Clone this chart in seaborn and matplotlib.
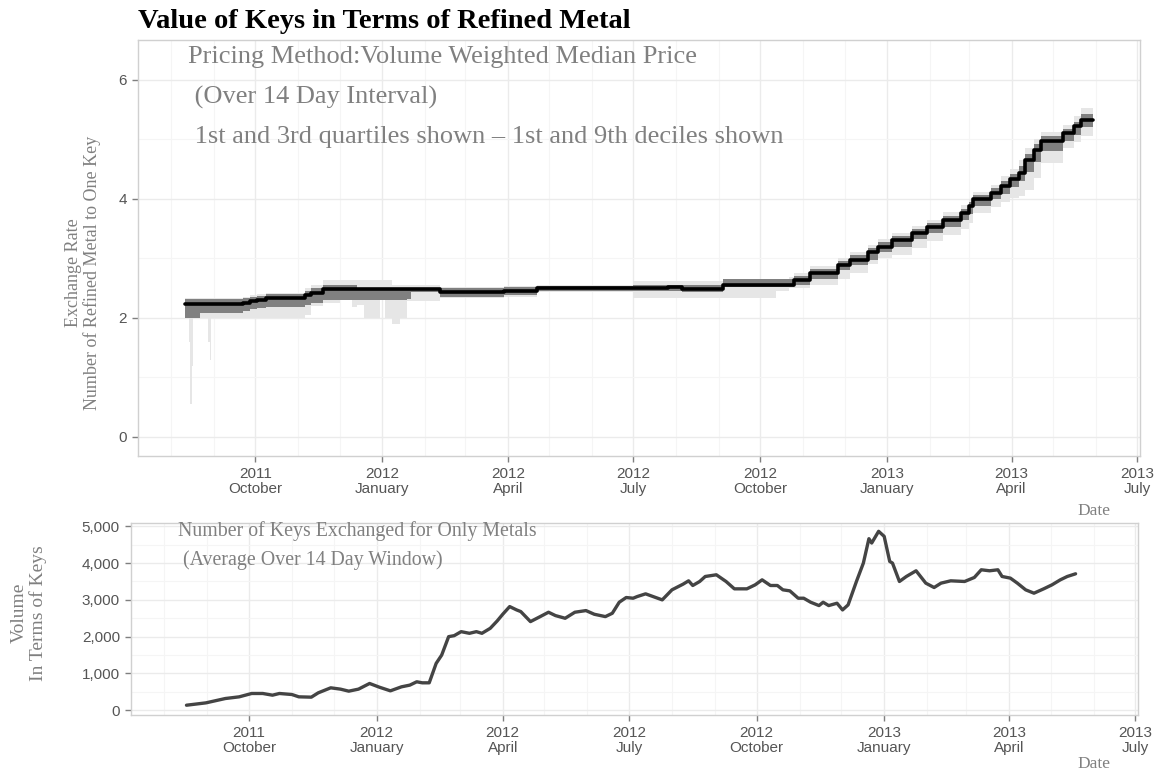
import matplotlib
matplotlib.use("Agg")
import matplotlib.pyplot as plt
import matplotlib.dates as mdates
from matplotlib.ticker import FixedLocator, FuncFormatter
import pandas as pd
import seaborn as sns

# ---------------- data ----------------
price_dates = ['2011-08-11', '2011-08-14', '2011-08-15', '2011-08-16', '2011-08-17', '2011-08-22',
               '2011-08-28', '2011-08-29', '2011-08-30', '2011-09-22', '2011-09-27', '2011-10-02',
               '2011-10-09', '2011-11-06', '2011-11-10', '2011-11-19', '2011-12-01', '2011-12-10',
               '2011-12-14', '2011-12-19', '2011-12-30', '2012-01-03', '2012-01-08', '2012-01-14',
               '2012-01-19', '2012-01-22', '2012-02-12', '2012-03-29', '2012-04-22', '2012-07-01',
               '2012-07-26', '2012-08-05', '2012-09-04', '2012-10-12', '2012-10-22', '2012-10-25',
               '2012-11-06', '2012-11-26', '2012-12-05', '2012-12-18', '2012-12-25', '2013-01-04',
               '2013-01-19', '2013-01-30', '2013-02-10', '2013-02-23', '2013-03-01', '2013-03-04',
               '2013-03-17', '2013-03-24', '2013-03-31', '2013-04-06', '2013-04-11', '2013-04-17',
               '2013-04-22', '2013-05-08', '2013-05-16', '2013-05-21', '2013-05-30']
price_median = [2.23, 2.23, 2.23, 2.23, 2.23, 2.23, 2.23, 2.23, 2.23, 2.25, 2.28, 2.30,
                2.33, 2.38, 2.42, 2.49, 2.49, 2.49, 2.49, 2.49, 2.49, 2.49, 2.49, 2.49,
                2.49, 2.49, 2.44, 2.46, 2.50, 2.50, 2.52, 2.48, 2.56, 2.56, 2.56, 2.64,
                2.76, 2.89, 2.97, 3.10, 3.20, 3.31, 3.43, 3.53, 3.65, 3.76, 3.88, 4.00,
                4.10, 4.22, 4.33, 4.43, 4.66, 4.82, 4.98, 5.10, 5.22, 5.32, 5.32]
price_q1 = [2.00, 2.00, 2.00, 2.00, 2.00, 2.08, 2.08, 2.08, 2.08, 2.12, 2.15, 2.17,
            2.19, 2.22, 2.25, 2.30, 2.30, 2.30, 2.30, 2.30, 2.30, 2.30, 2.30, 2.30,
            2.32, 2.44, 2.36, 2.38, 2.45, 2.45, 2.46, 2.44, 2.52, 2.52, 2.52, 2.56,
            2.66, 2.80, 2.89, 2.98, 3.10, 3.20, 3.32, 3.43, 3.53, 3.65, 3.74, 3.88,
            4.00, 4.08, 4.20, 4.30, 4.45, 4.62, 4.80, 4.98, 5.08, 5.20, 5.20]
price_q3 = [2.31, 2.31, 2.31, 2.31, 2.31, 2.31, 2.31, 2.31, 2.31, 2.33, 2.35, 2.37,
            2.40, 2.45, 2.50, 2.55, 2.55, 2.55, 2.51, 2.51, 2.51, 2.51, 2.51, 2.51,
            2.51, 2.51, 2.50, 2.52, 2.54, 2.55, 2.56, 2.55, 2.65, 2.65, 2.65, 2.70,
            2.83, 2.95, 3.05, 3.18, 3.28, 3.38, 3.50, 3.60, 3.72, 3.83, 3.95, 4.07,
            4.18, 4.30, 4.42, 4.55, 4.75, 4.92, 5.05, 5.18, 5.30, 5.42, 5.42]
price_d1 = [2.00, 1.60, 0.55, 1.20, 2.00, 2.00, 1.60, 1.30, 2.00, 2.00, 2.00, 2.00,
            2.00, 2.05, 2.20, 2.25, 2.30, 2.18, 2.22, 2.00, 2.30, 2.00, 1.90, 2.00,
            2.28, 2.28, 2.34, 2.36, 2.43, 2.33, 2.33, 2.33, 2.33, 2.45, 2.50, 2.50,
            2.56, 2.66, 2.76, 2.90, 3.00, 3.05, 3.18, 3.30, 3.40, 3.50, 3.60, 3.76,
            3.86, 3.95, 4.02, 4.05, 4.15, 4.35, 4.60, 4.85, 4.95, 5.05, 5.05]
price_d9 = [2.33, 2.33, 2.33, 2.33, 2.33, 2.33, 2.33, 2.33, 2.33, 2.35, 2.38, 2.40,
            2.42, 2.50, 2.56, 2.64, 2.64, 2.64, 2.64, 2.64, 2.64, 2.64, 2.55, 2.55,
            2.55, 2.55, 2.52, 2.54, 2.56, 2.62, 2.62, 2.62, 2.66, 2.66, 2.68, 2.75,
            2.88, 3.00, 3.10, 3.22, 3.32, 3.42, 3.55, 3.65, 3.78, 3.90, 4.00, 4.12,
            4.24, 4.38, 4.50, 4.65, 4.85, 5.00, 5.12, 5.25, 5.40, 5.52, 5.52]

volume_dates = ['2011-08-17', '2011-08-31', '2011-09-14', '2011-09-24', '2011-10-03', '2011-10-11',
                '2011-10-18', '2011-10-23', '2011-11-01', '2011-11-06', '2011-11-15', '2011-11-20',
                '2011-11-29', '2011-12-06', '2011-12-12', '2011-12-19', '2011-12-27', '2012-01-03',
                '2012-01-11', '2012-01-19', '2012-01-25', '2012-01-30', '2012-02-03', '2012-02-08',
                '2012-02-13', '2012-02-17', '2012-02-22', '2012-02-26', '2012-03-02', '2012-03-08',
                '2012-03-13', '2012-03-17', '2012-03-23', '2012-03-28', '2012-04-01', '2012-04-06',
                '2012-04-11', '2012-04-14', '2012-04-21', '2012-04-28', '2012-05-04', '2012-05-09',
                '2012-05-16', '2012-05-23', '2012-05-31', '2012-06-06', '2012-06-14', '2012-06-19',
                '2012-06-24', '2012-06-29', '2012-07-04', '2012-07-07', '2012-07-13', '2012-07-25',
                '2012-08-01', '2012-08-09', '2012-08-13', '2012-08-16', '2012-08-21', '2012-08-25',
                '2012-09-02', '2012-09-09', '2012-09-15', '2012-09-24', '2012-09-30', '2012-10-05',
                '2012-10-11', '2012-10-16', '2012-10-20', '2012-10-25', '2012-10-31', '2012-11-04',
                '2012-11-09', '2012-11-15', '2012-11-18', '2012-11-22', '2012-11-28', '2012-12-02',
                '2012-12-06', '2012-12-12', '2012-12-17', '2012-12-21', '2012-12-23', '2012-12-28',
                '2013-01-01', '2013-01-05', '2013-01-07', '2013-01-12', '2013-01-17', '2013-01-24',
                '2013-01-31', '2013-02-06', '2013-02-11', '2013-02-18', '2013-02-28', '2013-03-07',
                '2013-03-12', '2013-03-18', '2013-03-24', '2013-03-27', '2013-04-02', '2013-04-07',
                '2013-04-13', '2013-04-19', '2013-04-26', '2013-05-02', '2013-05-08', '2013-05-13',
                '2013-05-19']
volume_keys = [136, 200, 318, 364, 455, 455, 409, 455, 427, 364, 355, 473,
               609, 573, 518, 573, 727, 627, 527, 636, 682, 773, 745, 745,
               1273, 1500, 2000, 2027, 2136, 2091, 2136, 2091, 2227, 2427, 2609, 2818,
               2727, 2682, 2409, 2545, 2664, 2573, 2500, 2664, 2709, 2609, 2545, 2636,
               2936, 3064, 3045, 3091, 3164, 3000, 3273, 3427, 3518, 3391, 3500, 3636,
               3682, 3500, 3300, 3300, 3409, 3545, 3391, 3391, 3273, 3245, 3045, 3045,
               2936, 2845, 2936, 2845, 2909, 2727, 2864, 3500, 4000, 4663, 4545, 4864,
               4727, 4045, 4000, 3500, 3636, 3791, 3455, 3336, 3455, 3518, 3500, 3609,
               3818, 3791, 3818, 3636, 3591, 3455, 3273, 3182, 3300, 3409, 3545, 3636,
               3709]

tick_dates = ['2011-10-01', '2012-01-01', '2012-04-01', '2012-07-01',
              '2012-10-01', '2013-01-01', '2013-04-01', '2013-07-01']
tick_labels = ['2011\nOctober', '2012\nJanuary', '2012\nApril', '2012\nJuly',
               '2012\nOctober', '2013\nJanuary', '2013\nApril', '2013\nJuly']
x_limits = ['2011-07-08', '2013-07-03']

title = "Value of Keys in Terms of Refined Metal"
price_notes = ["Pricing Method:Volume Weighted Median Price",
               " (Over 14 Day Interval)",
               " 1st and 3rd quartiles shown \u2013 1st and 9th deciles shown"]
volume_notes = ["Number of Keys Exchanged for Only Metals",
                " (Average Over 14 Day Window)"]

# ---------------- frames ----------------
price = pd.DataFrame({"date": pd.to_datetime(price_dates), "median": price_median,
                      "q1": price_q1, "q3": price_q3, "d1": price_d1, "d9": price_d9})
volume = pd.DataFrame({"date": pd.to_datetime(volume_dates), "keys": volume_keys})

# ---------------- style ----------------
sns.set_theme(style="whitegrid")
SANS = ['Liberation Sans', 'DejaVu Sans']
SERIF = ['Liberation Serif', 'DejaVu Serif']
plt.rcParams['font.family'] = SANS

W, H = 1157, 776
fig = plt.figure(figsize=(W / 100, H / 100), dpi=100)
fig.patch.set_facecolor('white')
ax1 = fig.add_axes([138 / W, 1 - 456 / H, 1002 / W, 416 / H])
ax2 = fig.add_axes([131 / W, 1 - 715 / H, 1007 / W, 192 / H])

# ---------------- top panel ----------------
ax1.fill_between(price["date"], price["d1"], price["d9"], step="post",
                 color="#e6e6e6", linewidth=0, zorder=2)
ax1.fill_between(price["date"], price["q1"], price["q3"], step="post",
                 color="#808080", linewidth=0, zorder=3)
sns.lineplot(data=price, x="date", y="median", ax=ax1, color="black",
             linewidth=2.6, drawstyle="steps-post", errorbar=None, zorder=4)

# ---------------- bottom panel ----------------
sns.lineplot(data=volume, x="date", y="keys", ax=ax2, color="#444444",
             linewidth=2.4, errorbar=None, zorder=4)

ticks = mdates.date2num(pd.to_datetime(tick_dates))
xl = mdates.date2num(pd.to_datetime(x_limits))

for ax in (ax1, ax2):
    ax.set_facecolor('white')
    ax.set_xlim(xl[0], xl[1])
    ax.xaxis.set_major_locator(FixedLocator(ticks))
    ax.set_xticklabels(tick_labels)
    ax.xaxis.set_minor_locator(mdates.MonthLocator())
    ax.grid(which='major', color='#ebebeb', linewidth=1.0, zorder=0)
    ax.grid(which='minor', color='#f5f5f5', linewidth=0.8, zorder=0)
    ax.set_axisbelow(True)
    for s in ax.spines.values():
        s.set_color('#d0d0d0')
        s.set_linewidth(1.0)
    ax.tick_params(which='major', length=4, width=1.0, color='#7f7f7f',
                   labelcolor='#555555', labelsize=11, pad=4)
    ax.tick_params(which='minor', length=0)
    ax.tick_params(axis='x', bottom=True)
    ax.tick_params(axis='y', left=True)
    ax.set_xlabel('')
    ax.set_ylabel('')
    for lab in ax.get_xticklabels():
        lab.set_linespacing(1.1)

ax1.set_ylim(-0.32, 6.67)
ax1.yaxis.set_major_locator(FixedLocator([0, 2, 4, 6]))
ax1.yaxis.set_minor_locator(FixedLocator([1, 3, 5]))

ax2.set_ylim(-130, 5090)
ax2.yaxis.set_major_locator(FixedLocator([0, 1000, 2000, 3000, 4000, 5000]))
ax2.yaxis.set_minor_locator(FixedLocator([500, 1500, 2500, 3500, 4500]))
ax2.yaxis.set_major_formatter(FuncFormatter(lambda v, p: f"{int(v):,}"))

# ---------------- texts ----------------
fig.text(138 / W, 1 - 22 / H, title, family=SERIF, fontweight='bold',
         fontsize=20.5, color='black', ha='left', va='center')

for txt, yf in zip(price_notes, [0.959, 0.863, 0.767]):
    ax1.text(0.05, yf, txt, transform=ax1.transAxes, family=SERIF,
             fontsize=19, color='#808080', ha='left', va='center')
for txt, yf in zip(volume_notes, [0.958, 0.807]):
    ax2.text(0.047, yf, txt, transform=ax2.transAxes, family=SERIF,
             fontsize=14.3, color='#808080', ha='left', va='center')

fig.text(83 / W, 1 - 273 / H, "Exchange Rate\nNumber of Refined Metal to One Key",
         rotation=90, family=SERIF, fontsize=13, color='#808080',
         ha='center', va='center', multialignment='center', linespacing=1.1)
fig.text(29 / W, 1 - 613 / H, "Volume\nIn Terms of Keys",
         rotation=90, family=SERIF, fontsize=14, color='#808080',
         ha='center', va='center', multialignment='center', linespacing=1.1)

fig.text(1110 / W, 1 - 511 / H, "Date", family=SERIF, fontsize=12.5,
         color='#808080', ha='right', va='center')
fig.text(1110 / W, 1 - 764 / H, "Date", family=SERIF, fontsize=12.5,
         color='#808080', ha='right', va='center')

fig.savefig("out.png", dpi=100, facecolor='white')
